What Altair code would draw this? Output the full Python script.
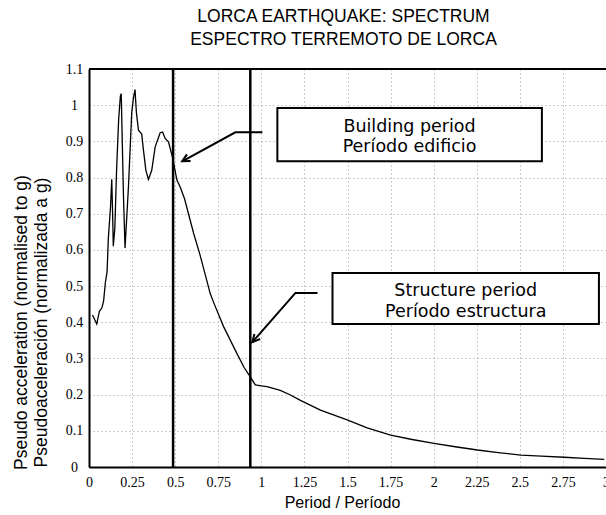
import altair as alt
import pandas as pd

# ---- data ----
period = [0.02, 0.045, 0.06, 0.075, 0.085, 0.095, 0.105, 0.112, 0.125, 0.132,
          0.137, 0.141, 0.15, 0.16, 0.172, 0.182, 0.187, 0.193, 0.20, 0.209,
          0.229, 0.248, 0.258, 0.267, 0.275, 0.287, 0.306, 0.315, 0.33, 0.345,
          0.364, 0.384, 0.413, 0.427, 0.442, 0.461, 0.484, 0.51, 0.529, 0.554,
          0.607, 0.645, 0.703, 0.723, 0.781, 0.858, 0.90, 0.936, 0.965, 1.0,
          1.033, 1.11, 1.169, 1.227, 1.343, 1.498, 1.614, 1.75, 1.875, 2.002,
          2.125, 2.254, 2.375, 2.506, 2.625, 2.758, 2.875, 2.99]
accel = [0.42, 0.395, 0.43, 0.44, 0.46, 0.51, 0.54, 0.63, 0.72, 0.795,
         0.70, 0.61, 0.66, 0.82, 0.96, 1.025, 1.032, 0.90, 0.75, 0.605,
         0.775, 0.98, 1.02, 1.043, 0.98, 0.931, 0.92, 0.88, 0.82, 0.795,
         0.82, 0.885, 0.924, 0.926, 0.908, 0.899, 0.857, 0.793, 0.774, 0.742,
         0.646, 0.585, 0.48, 0.455, 0.388, 0.314, 0.275, 0.249, 0.227, 0.224,
         0.222, 0.212, 0.199, 0.184, 0.157, 0.13, 0.108, 0.088, 0.076, 0.065,
         0.056, 0.047, 0.04, 0.033, 0.03, 0.027, 0.024, 0.021]

x_ticks = [0, 0.25, 0.5, 0.75, 1, 1.25, 1.5, 1.75, 2, 2.25, 2.5, 2.75, 3]
y_ticks = [0, 0.1, 0.2, 0.3, 0.4, 0.5, 0.6, 0.7, 0.8, 0.9, 1, 1.1]

marker_periods = [0.488, 0.936]   # building period, structure period

box_x1 = [1.093, 1.413]
box_x2 = [2.628, 2.959]
box_y1 = [0.992, 0.536]
box_y2 = [0.845, 0.395]

label_text = ["Building period", "Período edificio", "Structure period", "Período estructura"]
label_x = [1.86, 1.86, 2.186, 2.186]
label_y = [0.925, 0.870, 0.472, 0.414]

arrow_id = ["a", "a", "a", "b", "b", "b"]
arrow_order = [0, 1, 2, 0, 1, 2]
arrow_x = [1.006, 0.849, 0.541, 1.326, 1.198, 0.948]
arrow_y = [0.925, 0.925, 0.845, 0.481, 0.481, 0.345]

head_x = [0.541, 0.948]
head_y = [0.845, 0.345]
head_angle = [151, 131]

top_border = [1.1]

# ---- tables ----
curve_df = pd.DataFrame({"x": period, "y": accel})
marker_df = pd.DataFrame({"x": marker_periods})
box_df = pd.DataFrame({"x1": box_x1, "x2": box_x2, "y1": box_y1, "y2": box_y2})
label_df = pd.DataFrame({"t": label_text, "x": label_x, "y": label_y})
arrow_df = pd.DataFrame({"id": arrow_id, "o": arrow_order, "x": arrow_x, "y": arrow_y})
head_df = pd.DataFrame({"x": head_x, "y": head_y, "a": head_angle})
top_df = pd.DataFrame({"y": top_border})

xscale = alt.Scale(domain=[0, 3], nice=False, zero=False)
yscale = alt.Scale(domain=[0, 1.1], nice=False, zero=False)

xaxis = alt.Axis(values=x_ticks, title="Period / Período", labelExpr="datum.value",
                 grid=True, gridColor="#9a9a9a", gridDash=[1, 3], gridWidth=1,
                 domain=True, domainColor="black", domainWidth=2,
                 ticks=False, labelPadding=8, labelOverlap=False, labelFlush=False,
                 labelFont="Liberation Serif", labelFontSize=14, labelColor="black",
                 titleFont="Liberation Sans", titleFontSize=16, titleFontWeight="normal",
                 titleColor="black", titleX=253, titleY=40, titleBaseline="alphabetic",
                 titleAlign="center")
yaxis = alt.Axis(values=y_ticks, labelExpr="datum.value",
                 title=["Pseudo acceleration (normalised to g)",
                        "Pseudoaceleración (normalizada a g)"],
                 grid=True, gridColor="#9a9a9a", gridDash=[1, 3], gridWidth=1,
                 domain=True, domainColor="black", domainWidth=2,
                 ticks=False, labelPadding=15, labelAlign="center", labelBaseline="middle",
                 labelOverlap=False, labelFlush=False,
                 labelFont="Liberation Serif", labelFontSize=14, labelColor="black",
                 titleFont="Liberation Sans", titleFontSize=17.5, titleFontWeight="normal",
                 titleColor="black", titleAngle=270, titleX=-63, titleY=253,
                 titleAlign="center", titleBaseline="alphabetic", titleLineHeight=20)


def X(field):
    return alt.X(field, type="quantitative", scale=xscale, axis=xaxis)


def Y(field):
    return alt.Y(field, type="quantitative", scale=yscale, axis=yaxis)


curve = alt.Chart(curve_df).mark_line(color="black", strokeWidth=1.3).encode(
    x=X("x"), y=Y("y"),
)

top = alt.Chart(top_df).mark_rule(color="black", strokeWidth=2).encode(
    y=Y("y"), x=alt.value(0), x2=alt.value(517)
)

markers = alt.Chart(marker_df).mark_rule(color="black", strokeWidth=2.5).encode(
    x=X("x")
)

boxes = alt.Chart(box_df).mark_rect(fill="white", stroke="black", strokeWidth=2).encode(
    x=X("x1"), x2="x2:Q", y=Y("y1"), y2="y2:Q",
)

labels = alt.Chart(label_df).mark_text(font="DejaVu Sans", fontSize=17.5, color="black",
                                       align="center", baseline="alphabetic").encode(
    x=X("x"), y=Y("y"), text="t:N"
)

arrows = alt.Chart(arrow_df).mark_line(color="black", strokeWidth=2).encode(
    x=X("x"), y=Y("y"), detail="id:N", order="o:Q"
)

heads = alt.Chart(head_df).mark_point(shape="M -2 -1 L 0 0 L -2 1", filled=False,
                                      color="black", strokeWidth=2, size=56,
                                      opacity=1).encode(
    x=X("x"), y=Y("y"), angle=alt.Angle("a:Q", scale=None)
)

chart = alt.layer(curve, top, markers, arrows, heads, boxes, labels).properties(
    width=517, height=398,
    title=alt.TitleParams(
        text=["LORCA EARTHQUAKE: SPECTRUM", "ESPECTRO TERREMOTO DE LORCA"],
        font="Liberation Sans", fontSize=17.5, fontWeight="normal", color="black",
        lineHeight=23, anchor="middle", offset=14, dx=-4),
    autosize=alt.AutoSizeParams(type="none"),
    padding={"left": 89, "top": 69, "right": 0, "bottom": 48},
).configure_view(stroke=None).configure(background="white")

chart.save("out.html", embed_options={"renderer": "svg", "actions": False})
